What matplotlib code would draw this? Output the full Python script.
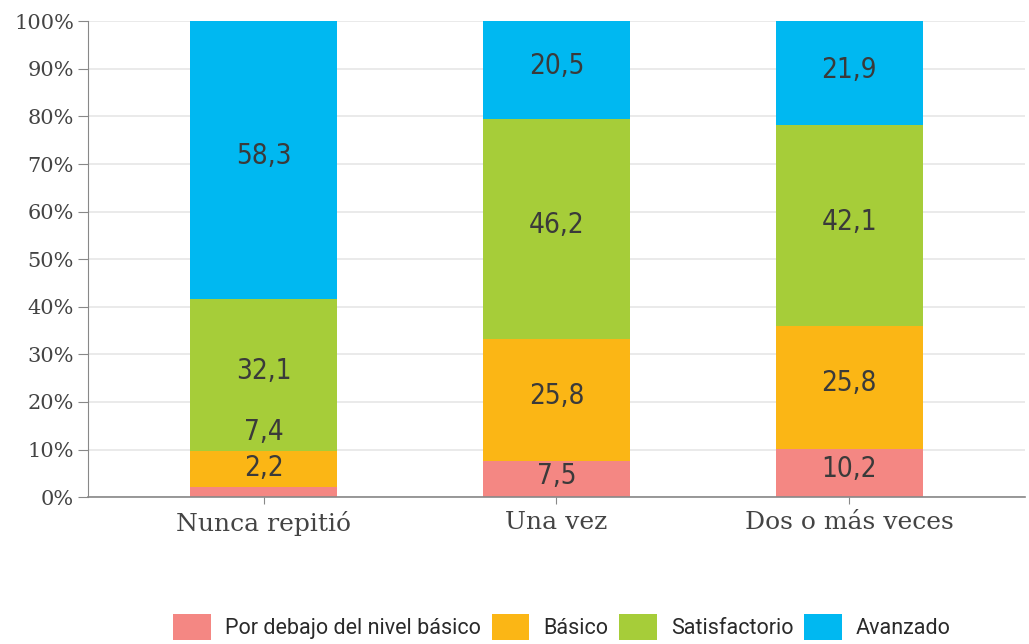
import numpy as np
import matplotlib
matplotlib.use("Agg")
import matplotlib.pyplot as plt
from matplotlib.ticker import FuncFormatter

categories = ["Nunca repitió", "Una vez", "Dos o más veces"]
levels = ["Por debajo del nivel básico", "Básico", "Satisfactorio", "Avanzado"]
below_basic = [2.2, 7.5, 10.2]
basic = [7.4, 25.8, 25.8]
satisfactory = [32.1, 46.2, 42.1]
advanced = [58.3, 20.5, 21.9]

colors = ["#F48783", "#FBB615", "#A6CD39", "#00B8F1"]

series = [below_basic, basic, satisfactory, advanced]

fig = plt.figure(figsize=(10.29, 6.44), dpi=100)
ax = fig.add_axes([0.0855, 0.228, 0.9105, 0.739])

x = np.arange(len(categories))
bottom = np.zeros(len(categories))
for vals, col, name in zip(series, colors, levels):
    vals = np.array(vals)
    ax.bar(x, vals, width=0.503, bottom=bottom, color=col, label=name, zorder=2)
    for xi, v, b in zip(x, vals, bottom):
        # thin segments get their label lifted above the segment
        if v < 7.5:
            y = b + v + 4.0
        else:
            y = b + v / 2 + 0.8
        ax.text(xi, y, f"{v:.1f}".replace(".", ","), ha="center", va="center",
                fontsize=20, color="#3a3a3a", family="DejaVu Sans",
                stretch="condensed", zorder=3)
    bottom += vals

ax.set_xlim(-0.6, 2.6)
ax.set_ylim(0, 100)
ax.set_yticks(np.arange(0, 101, 10))
ax.yaxis.set_major_formatter(FuncFormatter(lambda v, p: f"{int(v)}%"))
ax.set_xticks(x)
ax.set_xticklabels(categories)

for lbl in ax.get_yticklabels():
    lbl.set_family("DejaVu Serif")
    lbl.set_fontsize(15)
    lbl.set_color("#444444")
for lbl in ax.get_xticklabels():
    lbl.set_family("DejaVu Serif")
    lbl.set_fontsize(18)
    lbl.set_color("#444444")

ax.tick_params(axis="y", length=7, color="#888888", pad=3)
ax.tick_params(axis="x", length=5, color="#888888", pad=5)
ax.grid(axis="y", color="#E6E6E6", linewidth=1.2, zorder=0)
ax.set_axisbelow(True)
for s in ["top", "right"]:
    ax.spines[s].set_visible(False)
ax.spines["left"].set_color("#888888")
ax.spines["bottom"].set_color("#888888")
ax.spines["bottom"].set_linewidth(1.2)

leg = fig.legend(loc="center", bbox_to_anchor=(0.546, 0.026), ncol=4, frameon=False,
                 handlelength=1.75, handleheight=1.5, handletextpad=0.65,
                 columnspacing=0.5, prop={"family": "Roboto", "size": 15.5})
for t in leg.get_texts():
    t.set_color("#2a2a2a")

fig.savefig("out.png", dpi=100)
